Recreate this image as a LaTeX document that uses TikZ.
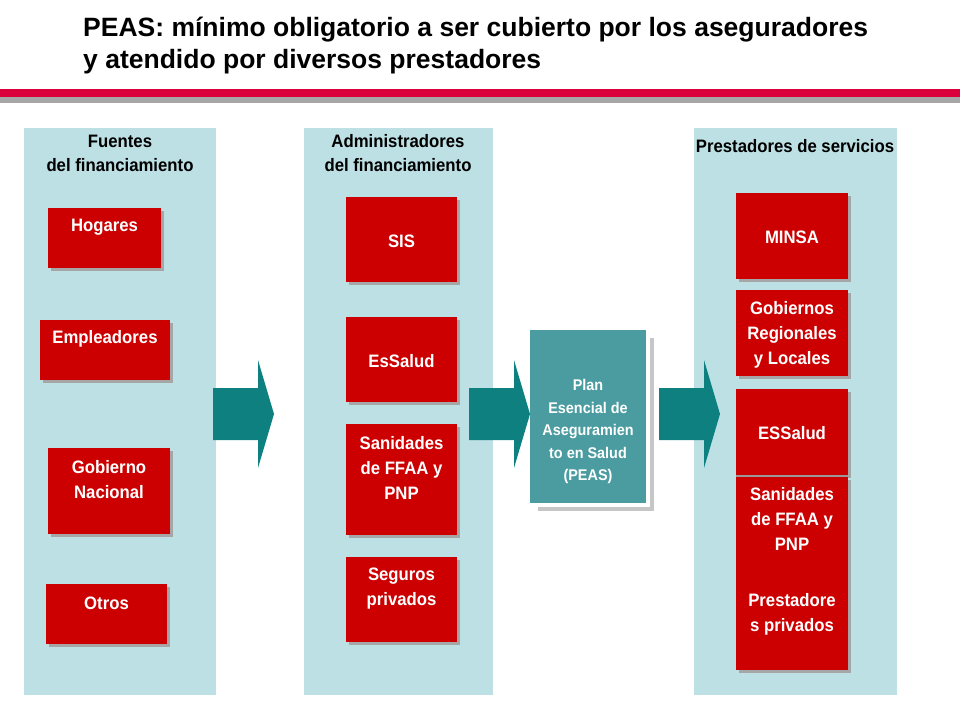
\documentclass[tikz,border=0pt]{standalone}
\usepackage{fontspec}
\setmainfont{Liberation Sans}
\newfontfamily\narrowf[FakeStretch=0.93]{Liberation Sans}
\begin{document}
\begin{tikzpicture}[x=1pt,y=-1pt,
 panel/.style={fill=panelc,draw=none},
 redbox/.style={fill=boxred,draw=none},
 shad/.style={fill=gray!70,draw=none},
 lbl/.style={text=white,font=\narrowf\fontsize{18}{25}\selectfont\bfseries,align=center,inner sep=0},
 hdr/.style={text=black,font=\narrowf\fontsize{18}{24}\selectfont\bfseries,align=center,inner sep=0},
 arr/.style={fill=arrc,draw=none}]
\definecolor{panelc}{HTML}{BCE0E4}
\definecolor{boxred}{HTML}{CC0000}
\definecolor{arrc}{HTML}{0E8080}
\definecolor{planc}{HTML}{4A9CA0}
\definecolor{barred}{HTML}{D9003C}
\useasboundingbox (0,0) rectangle (960,720);
\fill[white] (0,0) rectangle (960,720);
% title
\node[anchor=west,inner sep=0,font=\fontsize{26.5}{32}\selectfont\bfseries,align=left] (title) at (83,46)
 {PEAS: mínimo obligatorio a ser cubierto por los aseguradores\\y atendido por diversos prestadores};
\fill[barred] (0,89) rectangle (960,97);
\fill[gray!70] (0,97) rectangle (960,103);
% panels
\fill[panel] (24,128) rectangle (216,695);
\fill[panel] (304,128) rectangle (493,695);
\fill[panel] (694,128) rectangle (897,695);
\node[hdr] (h1) at (120,153) {Fuentes\\del financiamiento};
\node[hdr] (h2) at (398,153) {Administradores\\del financiamiento};
\node[hdr] (h3) at (795,146) {Prestadores de servicios};
\foreach \xa/\ya/\xb/\yb in {48/208/161/268, 40/320/170/380, 48/448/170/534, 46/584/167/644,
  346/197/457/282, 346/317/457/402, 346/424/457/535, 346/557/457/642,
  736/193/848/279, 736/290/848/376, 736/389/848/475}{
  \fill[shad] (\xa+3,\ya+3) rectangle (\xb+3,\yb+3);
  \fill[redbox] (\xa,\ya) rectangle (\xb,\yb);}
\fill[shad] (739,480) rectangle (851,673);
\fill[redbox] (736,477) rectangle (848,670);
\draw[gray!80,line width=1.2] (736,476) -- (848,476);
\node[lbl] (hog) at (104.5,227) {Hogares};
\node[lbl] (emp) at (105,339) {Empleadores};
\node[lbl] (gob) at (109,479.5) {Gobierno\\Nacional};
\node[lbl] (otr) at (106.5,603) {Otros};
\node[lbl] (sis) at (401.5,241) {SIS};
\node[lbl] (ess) at (401.5,361) {EsSalud};
\node[lbl] (san) at (401.5,468) {Sanidades\\de FFAA y\\PNP};
\node[lbl] (seg) at (401.5,589) {Seguros\\privados};
\node[lbl] (min) at (792,237) {MINSA};
\node[lbl] (gre) at (792,335) {Gobiernos\\Regionales\\y Locales};
\node[lbl] (es2) at (792,433) {ESSalud};
\node[lbl] (sa2) at (792,519) {Sanidades\\de FFAA y\\PNP};
\node[lbl] (pri) at (792,614.5) {Prestadore\\s privados};
% plan
\fill[gray!45] (538,338) rectangle (654,511);
\fill[white] (534,334) rectangle (650,507);
\fill[planc] (530,330) rectangle (646,503);
\node[lbl,font=\narrowf\fontsize{15.5}{22.5}\selectfont\bfseries] (peas) at (588,431.5)
 {Plan\\Esencial de\\Aseguramien\\to en Salud\\(PEAS)};
% arrows
\foreach \x in {213,469,659}{
 \fill[arr] (\x,388) -- (\x+45,388) -- (\x+45,360) -- (\x+61,414) -- (\x+45,468) -- (\x+45,440) -- (\x,440) -- cycle;}
\end{tikzpicture}
\end{document}
